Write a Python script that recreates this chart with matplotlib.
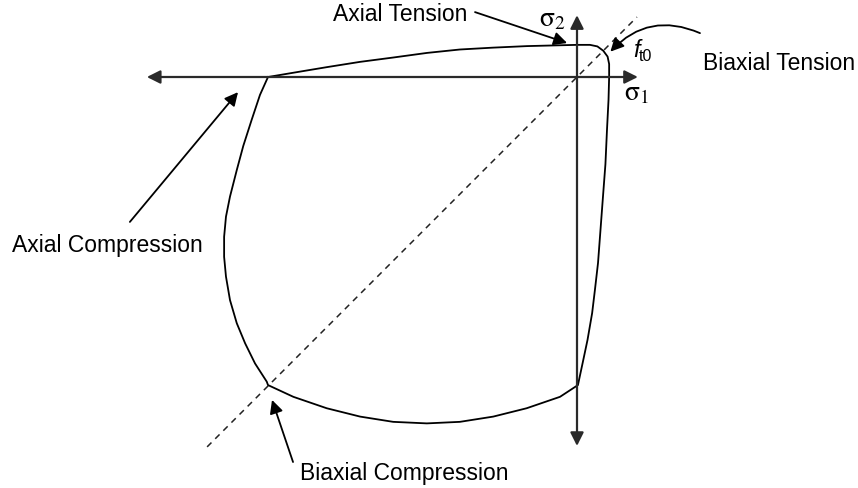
import numpy as np
import matplotlib.pyplot as plt

plt.rcParams.update({'font.family': 'Liberation Sans', 'mathtext.fontset': 'stix'})

# Biaxial failure envelope, stresses normalised by the uniaxial compressive strength
# top edge: axial compression -> axial tension -> rounded biaxial tension corner
top_s1 = [-1.000, -0.893, -0.809, -0.702, -0.595, -0.485, -0.379, -0.272, -0.162, -0.081,
          0.000, 0.042, 0.066, 0.085, 0.099, 0.104, 0.104]
top_s2 = [0.000, 0.018, 0.032, 0.049, 0.063, 0.078, 0.089, 0.095, 0.100, 0.102,
          0.104, 0.104, 0.099, 0.085, 0.066, 0.042, 0.000]
# right edge: tension on sigma1 down to axial compression on sigma2
right_s1 = [0.104, 0.102, 0.097, 0.092, 0.084, 0.076, 0.068, 0.058, 0.049, 0.034, 0.019, 0.003]
right_s2 = [0.000, -0.074, -0.172, -0.282, -0.388, -0.495, -0.602, -0.689, -0.764, -0.851,
            -0.922, -0.997]
# bottom edge: axial compression on sigma2 -> biaxial compression
bottom_s1 = [0.003, -0.055, -0.163, -0.271, -0.379, -0.486, -0.595, -0.702, -0.810, -0.918, -1.000]
bottom_s2 = [-0.997, -1.035, -1.072, -1.099, -1.116, -1.121, -1.116, -1.099, -1.072, -1.035, -0.997]
# left edge: biaxial compression back up to axial compression on sigma1
left_s1 = [-1.000, -1.004, -1.042, -1.074, -1.101, -1.123, -1.136, -1.142, -1.142, -1.136,
           -1.123, -1.101, -1.080, -1.053, -1.026, -1.000]
left_s2 = [-0.997, -0.986, -0.927, -0.862, -0.797, -0.722, -0.646, -0.582, -0.517, -0.452,
           -0.387, -0.301, -0.223, -0.139, -0.058, 0.000]

# axis extents and the equal-biaxial diagonal
s1_axis = [-1.392, 0.197]
s2_axis = [-1.194, 0.200]
diag = [-1.197, 0.194]

env_s1 = top_s1 + right_s1 + bottom_s1 + left_s1
env_s2 = top_s2 + right_s2 + bottom_s2 + left_s2

fig = plt.figure(figsize=(8.58, 4.88), dpi=100)
ax = fig.add_axes([0, 0, 1, 1])
ax.set_xlim(-577 / 309, (858 - 577) / 309)
ax.set_ylim(-(488 - 77) / 309, 77 / 309)
ax.axis('off')

ax.plot(diag, diag, color='#222222', lw=1.1, dashes=(4, 3.5))

axis_arrow = dict(arrowstyle='<|-|>', color='#2a2a2a', lw=1.6, mutation_scale=20,
                  shrinkA=0, shrinkB=0)
ax.annotate('', xy=(s1_axis[1], 0), xytext=(s1_axis[0], 0), arrowprops=axis_arrow)
ax.annotate('', xy=(0, s2_axis[1]), xytext=(0, s2_axis[0]), arrowprops=axis_arrow)

ax.plot(env_s1, env_s2, color='black', lw=1.3, solid_joinstyle='round')

ax.text(-0.078, 0.185, r'$\mathrm{\sigma}_\mathrm{2}$', fontsize=20, ha='center', va='center')
ax.text(0.192, -0.052, r'$\mathrm{\sigma}_\mathrm{1}$', fontsize=20, ha='center', va='center')
ax.text(0.191, 0.087, 'f', fontsize=17, style='italic', ha='center', va='center')
ax.text(0.222, 0.066, 't0', fontsize=11.5, ha='center', va='center')

label_arrow = dict(arrowstyle='-|>', color='black', lw=1.3, mutation_scale=20,
                   shrinkA=0, shrinkB=0)
fs = 16.5

ax.text(-0.356, 0.201, 'Axial Tension', fontsize=fs, ha='right', va='center')
ax.annotate('', xy=(-0.032, 0.110), xytext=(-0.330, 0.210), arrowprops=label_arrow)

ax.text(0.408, 0.045, 'Biaxial Tension', fontsize=fs, ha='left', va='center')
ax.annotate('', xy=(0.108, 0.082), xytext=(0.398, 0.142),
            arrowprops=dict(label_arrow, connectionstyle='arc3,rad=0.35'))

ax.text(-1.828, -0.544, 'Axial Compression', fontsize=fs, ha='left', va='center')
ax.annotate('', xy=(-1.097, -0.049), xytext=(-1.447, -0.469), arrowprops=label_arrow)

ax.text(-0.560, -1.282, 'Biaxial Compression', fontsize=fs, ha='center', va='center')
ax.annotate('', xy=(-0.987, -1.045), xytext=(-0.919, -1.246), arrowprops=label_arrow)

fig.savefig('out.png', dpi=100, facecolor='white')
